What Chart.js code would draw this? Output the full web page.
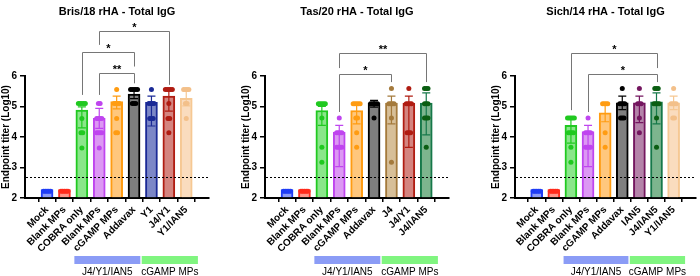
<!DOCTYPE html>
<html>
<head>
<meta charset="utf-8">
<script src="https://cdn.jsdelivr.net/npm/chart.js@4.4.1/dist/chart.umd.min.js"></script>
<style>
  body { margin: 0; background: #fff; width: 700px; height: 276px; position: relative; overflow: hidden; }
  canvas { position: absolute; top: 0; }
</style>
</head>
<body>
<canvas id="brisChart" width="235" height="276" style="left:0px"></canvas>
<canvas id="tasChart" width="230" height="276" style="left:240px"></canvas>
<canvas id="sichChart" width="210" height="276" style="left:490px"></canvas>
<script>
// ---- data (log10 endpoint titers) ----
var brisLabels = ['Mock', 'Blank MPs', 'COBRA only', 'Blank MPs', 'cGAMP MPs', 'Addavax', 'Y1', 'J4/Y1', 'Y1/IAN5'];
var brisMeans = [2.28, 2.28, 4.88, 4.61, 5.16, 5.41, 5.14, 5.34, 5.27];
var brisErrLow = [null, null, 4.30, 4.28, 4.92, 5.26, 4.36, 4.85, 5.02];
var brisErrHigh = [null, null, 4.99, 4.94, 5.34, 5.56, 5.34, 5.56, 5.52];
var brisDots = [
    [2.22, 2.22, 2.22, 2.22, 2.22],
    [2.22, 2.22, 2.22, 2.22, 2.22],
    [5.10, 5.10, 5.10, 5.10, 5.10, 4.61, 4.14, 4.14, 3.64],
    [5.10, 5.10, 4.61, 4.61, 4.61, 4.61, 4.14, 4.14, 4.14, 4.14, 3.64],
    [5.56, 5.10, 5.10, 5.10, 5.10, 4.61, 4.14, 4.14],
    [5.56, 5.56, 5.56, 5.56, 5.56, 5.10, 5.10, 5.10],
    [5.56, 5.10, 5.10, 5.10, 5.10, 4.61, 4.61, 4.61],
    [5.56, 5.56, 5.56, 5.56, 5.56, 5.10, 4.61, 4.61, 4.14],
    [5.56, 5.56, 5.56, 5.56, 5.10, 5.10, 4.61]
];

var tasLabels = ['Mock', 'Blank MPs', 'COBRA only', 'Blank MPs', 'cGAMP MPs', 'Addavax', 'J4', 'J4/Y1', 'J4/IAN5'];
var tasMeans = [2.28, 2.28, 4.87, 4.16, 4.87, 5.11, 5.11, 5.11, 5.11];
var tasErrLow = [null, null, 4.38, 3.03, 4.43, 4.98, 4.43, 3.66, 4.07];
var tasErrHigh = [null, null, 5.00, 4.38, 5.05, 5.20, 5.34, 5.34, 5.45];
var tasDots = [
    [2.22, 2.22, 2.22, 2.22, 2.22],
    [2.22, 2.22, 2.22, 2.22, 2.22],
    [5.09, 5.09, 5.09, 5.09, 5.09, 4.62, 3.66, 3.17],
    [4.62, 4.14, 4.14, 4.14, 4.14, 3.66, 3.66, 3.66, 3.66],
    [5.09, 5.09, 5.09, 5.09, 5.09, 4.62, 4.62, 4.14, 3.66],
    [5.09, 5.09, 5.09, 5.09, 5.09, 4.62],
    [5.59, 5.09, 5.09, 5.09, 5.09, 4.62, 3.17],
    [5.59, 5.09, 5.09, 5.09, 5.09, 4.14, 4.14, 4.14],
    [5.59, 5.59, 5.59, 5.09, 5.09, 5.09, 4.62, 4.62, 4.62, 3.66]
];

var sichLabels = ['Mock', 'Blank MPs', 'COBRA only', 'Blank MPs', 'cGAMP MPs', 'Addavax', 'IAN5', 'J4/IAN5', 'Y1/IAN5'];
var sichMeans = [2.28, 2.28, 4.38, 4.18, 4.79, 5.12, 5.12, 5.15, 5.12];
var sichErrLow = [null, null, 3.80, 3.03, 4.50, 4.90, 4.47, 4.43, 4.90];
var sichErrHigh = [null, null, 4.62, 4.38, 5.09, 5.34, 5.34, 5.45, 5.34];
var sichDots = [
    [2.22, 2.22, 2.22, 2.22, 2.22],
    [2.22, 2.22, 2.22, 2.22, 2.22],
    [4.62, 4.62, 4.62, 4.62, 4.62, 4.14, 4.14, 4.14, 4.14, 3.66, 3.17],
    [4.62, 4.14, 4.14, 4.14, 4.14, 3.66, 3.66, 3.66, 3.66],
    [5.09, 5.09, 5.09, 5.09, 4.14, 3.66],
    [5.59, 5.09, 5.09, 5.09, 5.09, 4.62, 4.62, 4.62],
    [5.59, 5.09, 5.09, 5.09, 4.62, 4.14],
    [5.59, 5.59, 5.59, 5.09, 5.09, 5.09, 5.09, 4.62, 3.66],
    [5.59, 5.09, 5.09, 5.09, 5.09, 4.62, 4.62]
];

var detectionLimit = 2.7;
var groupLabels = ['J4/Y1/IAN5', 'cGAMP MPs'];

// ---- styling ----
Chart.defaults.font.family = '"Liberation Sans", Arial, sans-serif';
Chart.defaults.color = '#000';

// border, fill, dot
var palette = {
    mock: ['#1f3df5', '#8c9bf7', '#1f3df5'],
    blank: ['#ff2b1c', '#ff958a', '#ff2b1c'],
    cobra: ['#20c920', '#8ae68a', '#20c920'],
    blankAdj: ['#bf45ef', '#dc98f3', '#bf45ef'],
    cgamp: ['#ff9c12', '#ffc77d', '#ff9c12'],
    addavax: ['#000000', '#7f7f7f', '#000000'],
    y1: ['#1b2a96', '#7c87c7', '#1b2a96'],
    j4y1: ['#b01c12', '#d4847f', '#b01c12'],
    y1ian5: ['#f6c893', '#fadcbe', '#f3c08a'],
    j4: ['#a47a3c', '#d7bf98', '#a47a3c'],
    j4ian5: ['#16784a', '#7db58e', '#0b5e12'],
    ian5: ['#74165f', '#b483a9', '#74165f']
};
var brisColors = ['mock', 'blank', 'cobra', 'blankAdj', 'cgamp', 'addavax', 'y1', 'j4y1', 'y1ian5'];
var tasColors = ['mock', 'blank', 'cobra', 'blankAdj', 'cgamp', 'addavax', 'j4', 'j4y1', 'j4ian5'];
var sichColors = ['mock', 'blank', 'cobra', 'blankAdj', 'cgamp', 'addavax', 'ian5', 'j4ian5', 'y1ian5'];

// significance brackets: [from, to, level, left leg end, right leg end, text]
var brisSig = [[3, 7, 7.46, 7.02, 5.71, '*'], [2, 5, 6.78, 5.38, 6.31, '*'], [3, 5, 6.09, 5.38, 5.76, '**']];
var tasSig = [[3, 8, 6.74, 6.26, 5.80, '**'], [3, 6, 6.05, 4.82, 5.80, '*']];
var sichSig = [[2, 7, 6.74, 4.88, 6.26, '*'], [3, 7, 6.05, 4.82, 5.80, '*']];

// group spans under the x labels (in category units)
var groupSpans = [[1.57, 5.36, '#8b9cf6'], [5.44, 8.67, '#80f580']];

function spreadDots(dots, colors) {
    var pts = [], cols = [];
    dots.forEach(function (vals, i) {
        var counts = {};
        vals.forEach(function (v) { counts[v] = (counts[v] || 0) + 1; });
        var seen = {};
        vals.forEach(function (v) {
            var n = counts[v], k = seen[v] || 0;
            seen[v] = k + 1;
            pts.push({ x: i + (k - (n - 1) / 2) * 0.1, y: v });
            cols.push(palette[colors[i]][2]);
        });
    });
    return { pts: pts, cols: cols };
}

function makePanel(id, title, labels, means, errLow, errHigh, dots, colors, sig, padRight) {
    var d = spreadDots(dots, colors);

    var extras = {
        id: 'extras',
        afterDatasetDraw: function (chart, args) {
            if (args.index !== 0) return;
            var ctx = chart.ctx, xs = chart.scales.x, ys = chart.scales.y;
            ctx.save();
            ctx.lineWidth = 1.2;
            means.forEach(function (m, i) {
                if (errLow[i] === null) return;
                var x = xs.getPixelForValue(i);
                var y1 = ys.getPixelForValue(errLow[i]), y2 = ys.getPixelForValue(errHigh[i]);
                ctx.strokeStyle = palette[colors[i]][0];
                ctx.beginPath();
                ctx.moveTo(x, y1); ctx.lineTo(x, y2);
                ctx.moveTo(x - 4, y1); ctx.lineTo(x + 4, y1);
                ctx.moveTo(x - 4, y2); ctx.lineTo(x + 4, y2);
                ctx.stroke();
            });
            ctx.restore();
        },
        afterDraw: function (chart) {
            var ctx = chart.ctx, xs = chart.scales.x, ys = chart.scales.y, area = chart.chartArea;
            ctx.save();
            // title
            ctx.fillStyle = '#000';
            ctx.font = 'bold 11px "Liberation Sans", Arial, sans-serif';
            ctx.textAlign = 'center';
            ctx.textBaseline = 'middle';
            ctx.fillText(title, (area.left + area.right) / 2, 12);

            // limit of detection
            var yl = Math.round(ys.getPixelForValue(detectionLimit)) + 0.5;
            ctx.strokeStyle = '#000';
            ctx.lineWidth = 1;
            ctx.setLineDash([2, 2]);
            ctx.beginPath();
            ctx.moveTo(area.left + 1, yl); ctx.lineTo(area.right, yl);
            ctx.stroke();
            ctx.setLineDash([]);

            // brackets
            ctx.strokeStyle = '#767676';
            ctx.lineWidth = 1;
            ctx.font = 'bold 11px "Liberation Sans", Arial, sans-serif';
            ctx.textBaseline = 'alphabetic';
            sig.forEach(function (b) {
                var x1 = Math.round(xs.getPixelForValue(b[0])) + 0.5;
                var x2 = Math.round(xs.getPixelForValue(b[1])) + 0.5;
                var yb = Math.round(ys.getPixelForValue(b[2])) + 0.5;
                ctx.beginPath();
                ctx.moveTo(x1, ys.getPixelForValue(b[3]));
                ctx.lineTo(x1, yb);
                ctx.lineTo(x2, yb);
                ctx.lineTo(x2, ys.getPixelForValue(b[4]));
                ctx.stroke();
                ctx.fillText(b[5], (x1 + x2) / 2, yb - 1);
            });

            // group bars
            var step = xs.getPixelForValue(1) - xs.getPixelForValue(0);
            ctx.font = '10px "Liberation Sans", Arial, sans-serif';
            ctx.textBaseline = 'middle';
            groupSpans.forEach(function (g, k) {
                var a = xs.getPixelForValue(0) + g[0] * step;
                var b = xs.getPixelForValue(0) + g[1] * step;
                ctx.fillStyle = g[2];
                ctx.fillRect(a, 256, b - a, 8);
                ctx.fillStyle = '#000';
                ctx.fillText(groupLabels[k], (a + b) / 2, 272);
            });
            ctx.restore();
        }
    };

    return new Chart(document.getElementById(id), {
        type: 'bar',
        data: {
            datasets: [{
                type: 'bar',
                order: 1,
                data: means.map(function (v, i) { return { x: i, y: v }; }),
                base: 2,
                backgroundColor: colors.map(function (c) { return palette[c][1]; }),
                borderColor: colors.map(function (c) { return palette[c][0]; }),
                borderWidth: 2,
                borderSkipped: 'start',
                barThickness: 12
            }, {
                type: 'scatter',
                order: 0,
                data: d.pts,
                pointRadius: 2.5,
                pointBorderWidth: 0,
                pointBackgroundColor: d.cols
            }]
        },
        options: {
            responsive: false,
            animation: false,
            layout: { padding: { top: 76, bottom: 0, left: 0, right: padRight } },
            plugins: { legend: { display: false }, tooltip: { enabled: false } },
            scales: {
                x: {
                    type: 'linear',
                    min: -0.68,
                    max: 8.72,
                    afterBuildTicks: function (s) { s.ticks = labels.map(function (_, i) { return { value: i }; }); },
                    afterFit: function (s) { s.height = 78; },
                    ticks: {
                        autoSkip: false,
                        minRotation: 45,
                        maxRotation: 45,
                        padding: 2,
                        font: { size: 10, weight: 'bold' },
                        callback: function (v) { return labels[v]; }
                    },
                    grid: { drawOnChartArea: false, drawTicks: true, tickLength: 4, color: '#000', lineWidth: 1.5 },
                    border: { color: '#000', width: 2 }
                },
                y: {
                    min: 2,
                    max: 6,
                    afterBuildTicks: function (s) { s.ticks = [2, 3, 4, 5, 6].map(function (v) { return { value: v }; }); },
                    afterFit: function (s) { s.width = 25; },
                    ticks: { padding: 3, font: { size: 10, weight: 'bold' } },
                    grid: { drawOnChartArea: false, drawTicks: true, tickLength: 5, color: '#000', lineWidth: 1.5 },
                    border: { color: '#000', width: 2 },
                    title: {
                        display: true,
                        text: 'Endpoint titer (Log10)',
                        padding: { top: 0, bottom: 0 },
                        font: { size: 10, weight: 'bold' }
                    }
                }
            }
        },
        plugins: [extras]
    });
}

makePanel('brisChart', 'Bris/18 rHA - Total IgG', brisLabels, brisMeans, brisErrLow, brisErrHigh, brisDots, brisColors, brisSig, 26);
makePanel('tasChart', 'Tas/20 rHA - Total IgG', tasLabels, tasMeans, tasErrLow, tasErrHigh, tasDots, tasColors, tasSig, 21);
makePanel('sichChart', 'Sich/14 rHA - Total IgG', sichLabels, sichMeans, sichErrLow, sichErrHigh, sichDots, sichColors, sichSig, 1);
</script>
</body>
</html>
